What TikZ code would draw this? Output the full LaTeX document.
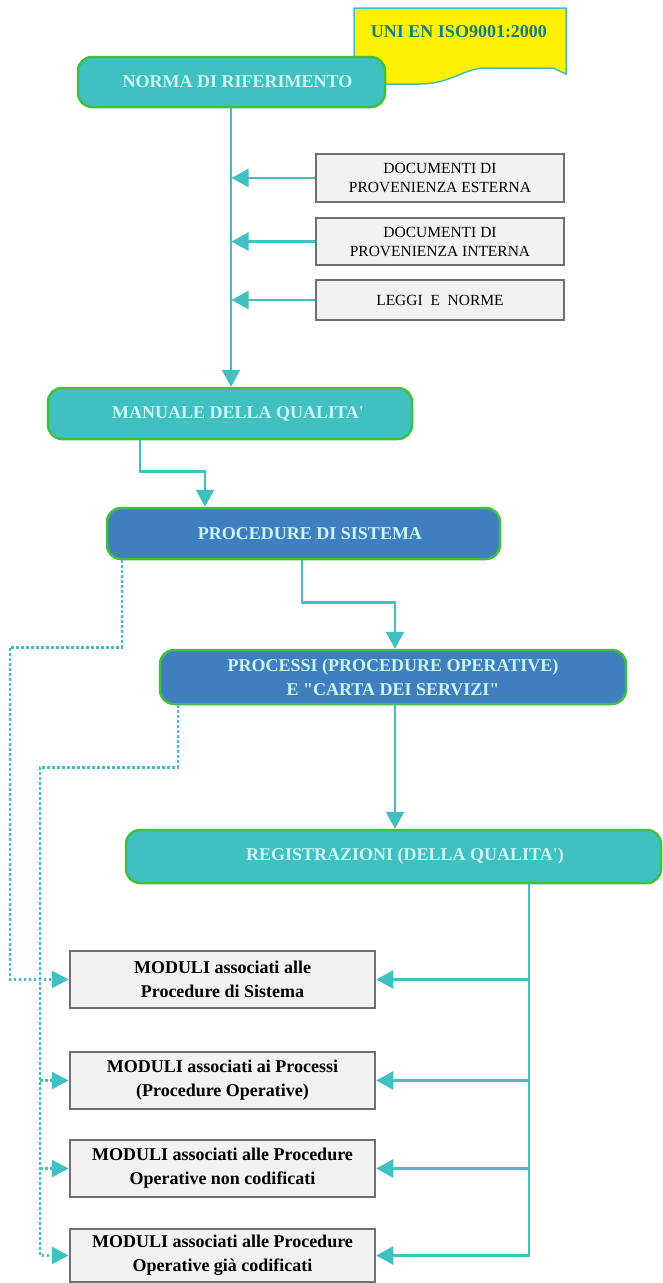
\documentclass[tikz,border=0pt]{standalone}
\usepackage{fontspec}
\setmainfont{Liberation Serif}[Ligatures=TeXOff]
\usetikzlibrary{arrows.meta}

\definecolor{tealc}{RGB}{64,192,192}
\definecolor{bluec}{RGB}{63,127,191}
\definecolor{boxgreen}{RGB}{64,192,64}
\definecolor{lighttext}{RGB}{204,246,246}
\definecolor{isotext}{RGB}{20,125,130}
\definecolor{grayf}{RGB}{242,242,242}
\definecolor{grayb}{RGB}{112,112,112}

\tikzset{
  rbox/.style={rounded corners=14pt, draw=boxgreen, line width=2.5pt,
    font=\fontsize{18}{24}\selectfont\bfseries, text=lighttext, align=center, inner sep=0pt},
  tealbox/.style={rbox, fill=tealc},
  bluebox/.style={rbox, fill=bluec},
  graybox/.style={draw=grayb, fill=grayf, line width=2.5pt, align=center, inner sep=0pt, text=black},
  docbox/.style={graybox, font=\fontsize{15.5}{19}\selectfont, minimum width=248pt},
  modbox/.style={graybox, font=\fontsize{18}{24}\selectfont\bfseries, minimum width=305pt, minimum height=57pt},
  link/.style={draw=tealc, line width=2.5pt},
  conn/.style={link, -{Triangle[length=17pt,width=18pt]}},
  dotlink/.style={draw=tealc, line width=2.6pt, dash pattern=on 2.6pt off 2.4pt},
  dotconn/.style={dotlink, -{Triangle[length=17pt,width=17pt]}},
}
% push a one-line label a little to the right inside its box
\newcommand{\nudge}[2]{\hspace*{#1pt}#2}

\begin{document}
\begin{tikzpicture}[x=1pt, y=-1pt]
\useasboundingbox (0,0) rectangle (662,1283);

% standard note with wavy lower edge
\path[draw=tealc, line width=1.5pt, fill=yellow]
  (354,84) -- (354,8) -- (566,8) -- (566,74) -- (553,68) -- (485,68)
  .. controls (465,68) and (450,84) .. (420,84) -- cycle;
\node[font=\fontsize{18}{22}\selectfont\bfseries, text=isotext] (iso) at (459,32) {UNI EN ISO9001:2000};

% main chain
\node[tealbox, minimum width=307pt, minimum height=50pt] (norma) at (231.5,82) {\nudge{12}{NORMA DI RIFERIMENTO}};

\node[docbox, minimum height=48pt] (ext) at (440,178) {DOCUMENTI DI\\PROVENIENZA ESTERNA};
\node[docbox, minimum height=47pt] (int) at (440,241.5) {DOCUMENTI DI\\PROVENIENZA INTERNA};
\node[docbox, minimum height=40pt] (leggi) at (440,300) {LEGGI\ \ E\ \ NORME};

\node[tealbox, minimum width=364pt, minimum height=51pt] (manuale) at (230,413.5) {\nudge{16}{MANUALE DELLA QUALITA'}};
\node[bluebox, minimum width=393pt, minimum height=51pt] (proc) at (303.5,533.5) {\nudge{13}{PROCEDURE DI SISTEMA}};
\node[bluebox, minimum width=466pt, minimum height=54pt] (processi) at (393,677) {PROCESSI (PROCEDURE OPERATIVE)\\E "CARTA DEI SERVIZI"};
\node[tealbox, minimum width=535pt, minimum height=53pt] (reg) at (393.5,856.5) {\nudge{23}{REGISTRAZIONI (DELLA QUALITA')}};

\node[modbox] (m1) at (222.5,979.5) {MODULI associati alle\\Procedure di Sistema};
\node[modbox] (m2) at (222.5,1080.5) {MODULI associati ai Processi\\(Procedure Operative)};
\node[modbox] (m3) at (222.5,1168.5) {MODULI associati alle Procedure\\Operative non codificati};
\node[modbox, minimum height=53pt] (m4) at (222.5,1255.5) {MODULI associati alle Procedure\\Operative già codificati};

% connectors along the chain
\draw[conn] ([xshift=-0.5pt]norma.south) -- ([xshift=-0.5pt]norma.south |- manuale.north);
\draw[conn] (ext.west) -- (ext.west -| norma.south);
\draw[conn] (int.west) -- (int.west -| norma.south);
\draw[conn] (leggi.west) -- (leggi.west -| norma.south);

\draw[conn] ([xshift=-90pt]manuale.south) -- ++(0,31) -| ([xshift=-98.5pt]proc.north);
\draw[conn] ([xshift=-1.5pt]proc.south) -- ++(0,42) -| ([xshift=2pt]processi.north);
\draw[conn] ([xshift=2pt]processi.south) -- ([xshift=2pt]processi.south |- reg.north);

% distribution bus to the forms
\coordinate (bus) at ([xshift=135.5pt]reg.south);
\draw[conn] (bus) |- (m4.east);
\draw[conn] (bus |- m1.east) -- (m1.east);
\draw[conn] (bus |- m2.east) -- (m2.east);
\draw[conn] (bus |- m3.east) -- (m3.east);

% dotted links on the left
\draw[dotconn] ([xshift=-181.5pt]proc.south) -- ++(0,87) -- ++(-112,0) |- (m1.west);
\draw[dotconn] ([xshift=-215pt]processi.south) -- ++(0,62) -- ++(-138,0) coordinate (dcorner) |- (m4.west);
\draw[dotconn] (dcorner |- m2.west) -- (m2.west);
\draw[dotconn] (dcorner |- m3.west) -- (m3.west);
\end{tikzpicture}
\end{document}
